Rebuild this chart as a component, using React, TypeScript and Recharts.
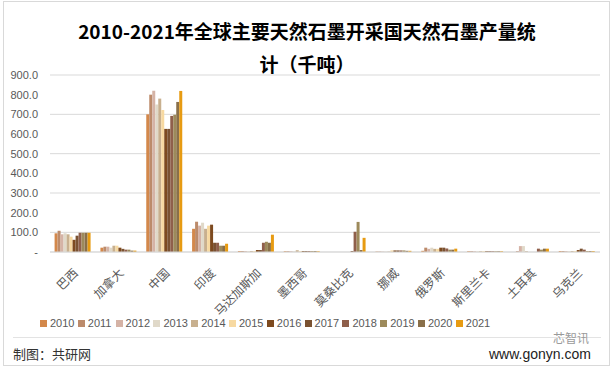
import React from "react";
import { BarChart, Bar, XAxis, YAxis, CartesianGrid, Legend } from "recharts";

const countries = ["巴西", "加拿大", "中国", "印度", "马达加斯加", "墨西哥", "莫桑比克", "挪威", "俄罗斯", "斯里兰卡", "土耳其", "乌克兰"];

const y2010 = [95, 22, 700, 118, 5, 4, 0, 2, 6, 4, 0, 5];
const y2011 = [108, 27, 800, 154, 5, 4, 0, 2, 22, 4, 4, 5];
const y2012 = [90, 27, 820, 134, 5, 4, 0, 2, 16, 4, 30, 5];
const y2013 = [95, 22, 750, 149, 5, 4, 0, 2, 22, 4, 30, 5];
const y2014 = [90, 32, 780, 118, 5, 9, 0, 2, 16, 4, 4, 5];
const y2015 = [78, 32, 722, 134, 5, 4, 0, 8, 16, 4, 0, 5];
const y2016 = [62, 22, 626, 139, 10, 5, 0, 8, 22, 4, 0, 10];
const y2017 = [83, 16, 626, 47, 10, 5, 5, 8, 22, 4, 0, 17];
const y2018 = [98, 12, 692, 47, 47, 5, 103, 8, 18, 4, 17, 12];
const y2019 = [98, 12, 698, 32, 52, 5, 153, 8, 12, 4, 12, 5];
const y2020 = [98, 7, 763, 32, 47, 5, 10, 6, 12, 4, 17, 5];
const y2021 = [98, 7, 819, 42, 88, 4, 72, 6, 17, 4, 17, 5];

const years = ["2010", "2011", "2012", "2013", "2014", "2015", "2016", "2017", "2018", "2019", "2020", "2021"];
const seriesValues = [y2010, y2011, y2012, y2013, y2014, y2015, y2016, y2017, y2018, y2019, y2020, y2021];
const colors = ["#D3884B", "#BC8B6B", "#D5B3A6", "#E0D9C9", "#C8B08F", "#F7D9A1", "#7D4A1F", "#7A5232", "#8F5F4B", "#9D8A5B", "#896F49", "#E79B12"];

const yTicks = [0, 100, 200, 300, 400, 500, 600, 700, 800, 900];

const data = countries.map((c, i) => {
  const row: Record<string, any> = { name: c };
  years.forEach((y, k) => {
    row[y] = seriesValues[k][i];
  });
  return row;
});

const FONT = "'Liberation Sans', 'Noto Sans CJK SC', sans-serif";

const XTick = (props: any) => {
  const { x, y, payload } = props;
  return (
    <g transform={`translate(${x + 3},${y + 11})`}>
      <text
        x={0}
        y={0}
        dy={4}
        textAnchor="end"
        transform="rotate(-45)"
        fontSize={12}
        fill="#595959"
        fontFamily={FONT}
      >
        {payload.value}
      </text>
    </g>
  );
};

const LegendContent = () => (
  <div style={{ display: "flex", height: 20, alignItems: "center", fontFamily: FONT }}>
    {years.map((y, k) => (
      <div key={y} style={{ width: 37.8, display: "flex", alignItems: "center" }}>
        <span style={{ display: "inline-block", width: 7, height: 7, background: colors[k], marginRight: 3 }} />
        <span style={{ fontSize: 11, color: "#595959" }}>{y}</span>
      </div>
    ))}
  </div>
);

export default function App() {
  return (
    <div style={{ position: "absolute", left: 0, top: 0, width: 614, height: 369, background: "#fff", overflow: "hidden" }}>
      <div
        style={{
          position: "absolute",
          left: 3,
          top: 1,
          width: 605,
          height: 363,
          border: "1px solid #d9d9d9",
        }}
      />
      <div
        style={{
          position: "absolute",
          left: 0,
          top: 14,
          width: 614,
          textAlign: "center",
          fontFamily: "'Noto Sans CJK SC', sans-serif",
          fontWeight: 700,
          fontSize: 19,
          lineHeight: "33px",
          color: "#000",
        }}
      >
        <div>2010-2021年全球主要天然石墨开采国天然石墨产量统</div>
        <div>计（千吨）</div>
      </div>
      <div style={{ position: "absolute", left: 0, top: 0 }}>
        <BarChart
          width={614}
          height={369}
          data={data}
          margin={{ top: 75, right: 14, left: 8, bottom: 36 }}
          barCategoryGap="10%"
          barGap={0}
        >
          <CartesianGrid vertical={false} stroke="#d9d9d9" strokeWidth={1} />
          <YAxis
            width={42}
            domain={[0, 900]}
            ticks={yTicks}
            axisLine={false}
            tickLine={false}
            tickMargin={6}
            tickFormatter={(v: number) => (v === 0 ? "-" : v.toFixed(1))}
            tick={{ fontSize: 11, fill: "#595959", fontFamily: FONT }}
          />
          <XAxis
            dataKey="name"
            height={61}
            interval={0}
            axisLine={{ stroke: "#d9d9d9" }}
            tickLine={false}
            tick={<XTick />}
          />
          <Legend
            verticalAlign="bottom"
            align="left"
            content={<LegendContent />}
            wrapperStyle={{ left: 40, width: 460 }}
          />
          {years.map((y, k) => (
            <Bar key={y} dataKey={y} fill={colors[k]} isAnimationActive={false} />
          ))}
        </BarChart>
      </div>
      <div style={{ position: "absolute", left: 13, top: 337, width: 588, height: 1, background: "#e3e3e3" }} />
      <div
        style={{
          position: "absolute",
          left: 13,
          top: 345,
          fontSize: 13,
          color: "#333",
          fontFamily: "'Noto Sans CJK SC', sans-serif",
          lineHeight: "18px",
        }}
      >
        制图：共研网
      </div>
      <div
        style={{
          position: "absolute",
          left: 553,
          top: 331,
          fontSize: 12,
          color: "#9a9a9a",
          fontFamily: "'Noto Sans CJK SC', sans-serif",
          lineHeight: "14px",
        }}
      >
        芯智讯
      </div>
      <div
        style={{
          position: "absolute",
          left: 489,
          top: 346,
          fontSize: 14,
          color: "#222",
          fontFamily: FONT,
          lineHeight: "16px",
        }}
      >
        www.gonyn.com
      </div>
    </div>
  );
}
